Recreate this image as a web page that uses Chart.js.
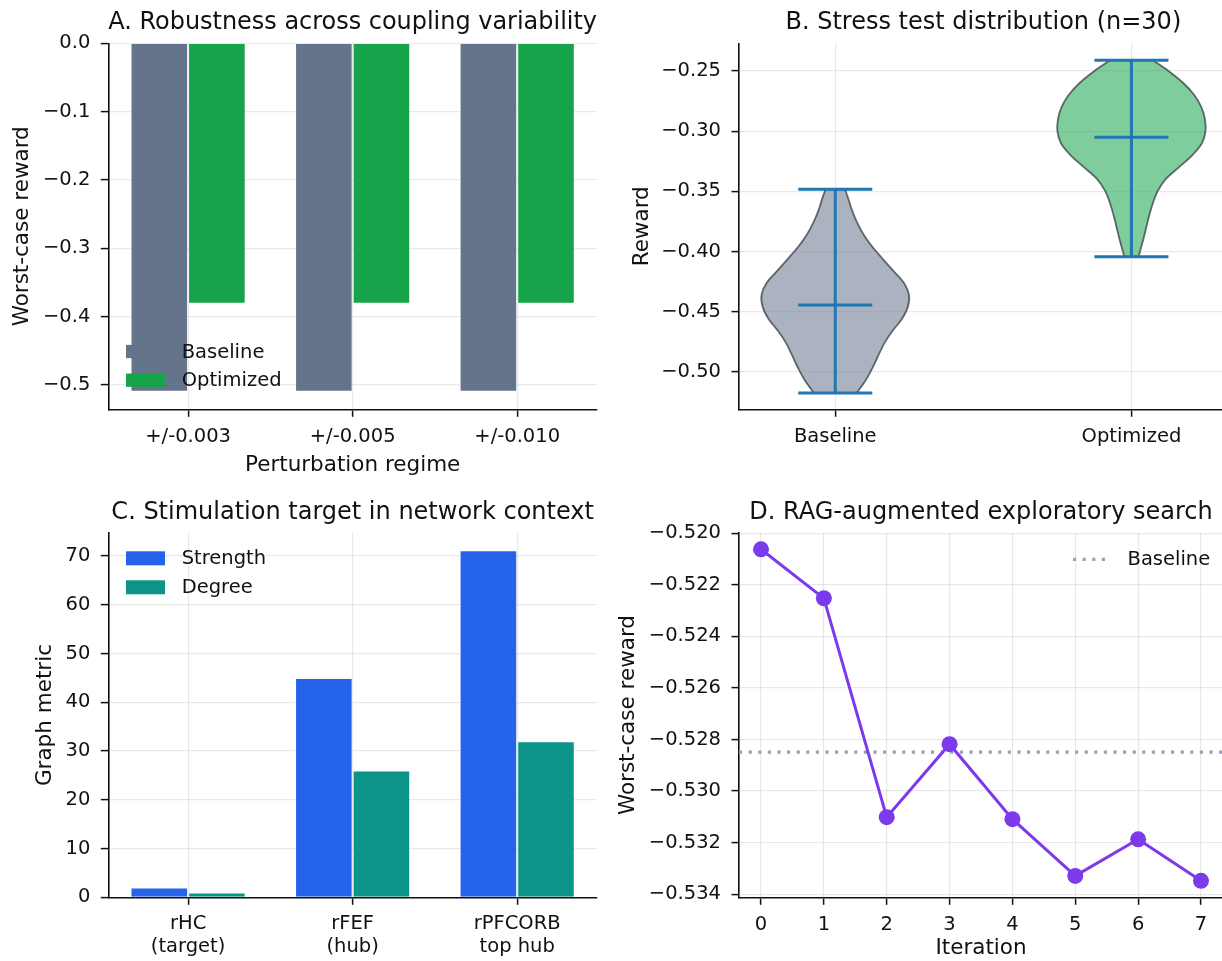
<!DOCTYPE html>
<html>
<head>
<meta charset="utf-8">
<title>Robustness and search summary</title>
<script src="https://cdn.jsdelivr.net/npm/chart.js@4.4.1/dist/chart.umd.min.js"></script>
<style>
  html, body { margin: 0; padding: 0; background: #ffffff; overflow: hidden; width: 1222px; height: 961px; }
  canvas { position: absolute; }
</style>
</head>
<body>
<canvas id="chartA" width="611" height="480" style="left:0;top:0"></canvas>
<canvas id="chartB" width="620" height="480" style="left:611px;top:0"></canvas>
<canvas id="chartC" width="611" height="490" style="left:0;top:480px"></canvas>
<canvas id="chartD" width="620" height="490" style="left:611px;top:480px"></canvas>
<script>
// --- A: worst-case reward per perturbation regime
const regimes = ['+/-0.003', '+/-0.005', '+/-0.010'];
const robustBaseline = [-0.510, -0.510, -0.510];
const robustOptimized = [-0.381, -0.381, -0.381];
const robustTicks = [-0.5, -0.4, -0.3, -0.2, -0.1, 0.0];

// --- B: stress test violins (outline: level -> half width)
const stressGroups = ['Baseline', 'Optimized'];
const stressMin = [-0.5175, -0.4042];
const stressMax = [-0.3483, -0.2411];
const stressMean = [-0.4444, -0.3050];
const baseLevels = [-0.3483, -0.356, -0.366, -0.376, -0.386, -0.396, -0.406, -0.416, -0.426, -0.436, -0.446, -0.456, -0.466, -0.476, -0.486, -0.496, -0.506, -0.5175];
const baseHalfWidth = [0.033, 0.044, 0.057, 0.074, 0.096, 0.125, 0.160, 0.196, 0.232, 0.249, 0.245, 0.225, 0.193, 0.166, 0.146, 0.127, 0.105, 0.072];
const optLevels = [-0.2411, -0.250, -0.260, -0.270, -0.280, -0.290, -0.300, -0.310, -0.320, -0.330, -0.340, -0.350, -0.360, -0.370, -0.380, -0.390, -0.398, -0.4042];
const optHalfWidth = [0.072, 0.125, 0.175, 0.212, 0.236, 0.248, 0.250, 0.238, 0.205, 0.160, 0.115, 0.088, 0.072, 0.060, 0.050, 0.040, 0.031, 0.024];
const stressTicks = [-0.50, -0.45, -0.40, -0.35, -0.30, -0.25];

// --- C: graph metrics of the stimulation target
const nodes = [['rHC', '(target)'], ['rFEF', '(hub)'], ['rPFCORB', 'top hub']];
const strength = [2.0, 45.0, 71.2];
const degree = [1.0, 26.0, 32.0];
const metricTicks = [0, 10, 20, 30, 40, 50, 60, 70];

// --- D: exploratory search trace
const iterations = [0, 1, 2, 3, 4, 5, 6, 7];
const searchReward = [-0.52062, -0.52252, -0.53101, -0.52818, -0.53109, -0.53329, -0.53187, -0.53348];
const searchBaseline = -0.52849;
const searchTicks = [-0.534, -0.532, -0.530, -0.528, -0.526, -0.524, -0.522, -0.520];

Chart.defaults.font.family = "'DejaVu Sans', sans-serif";
Chart.defaults.color = '#111111';

const INK = '#111111';
const GRID = 'rgba(0, 0, 0, 0.085)';
const BAR_EDGE = 'rgba(255,255,255,0.25)';
const CAP = 0.125;

function fmt(v, d) {
    const s = Math.abs(v).toFixed(d);
    return (v < -1e-9 ? '\u2212' : '') + s;
}

// legend drawn inside the plot area, matplotlib style (no frame)
const insetLegend = {
    id: 'insetLegend',
    afterDraw(chart, args, opts) {
        if (!opts.datasets) return;
        const { ctx, chartArea } = chart;
        ctx.save();
        ctx.font = '19.5px "DejaVu Sans"';
        ctx.textBaseline = 'middle';
        ctx.textAlign = 'left';
        opts.datasets.forEach((idx, i) => {
            const ds = chart.data.datasets[idx];
            const cy = chartArea.top + opts.top + i * opts.spacing;
            const x0 = chartArea.left + opts.left;
            if (ds.borderDash) {
                ctx.strokeStyle = ds.borderColor;
                ctx.lineWidth = ds.borderWidth;
                ctx.setLineDash(ds.borderDash);
                ctx.beginPath();
                ctx.moveTo(x0, cy);
                ctx.lineTo(x0 + opts.handle, cy);
                ctx.stroke();
                ctx.setLineDash([]);
            } else {
                ctx.fillStyle = ds.backgroundColor;
                ctx.fillRect(x0, cy - opts.patchH / 2, opts.handle, opts.patchH);
            }
            ctx.fillStyle = INK;
            ctx.fillText(ds.label, chartArea.left + opts.textLeft, cy + 1);
        });
        ctx.restore();
    }
};

function axis(o) {
    return {
        type: 'linear',
        min: o.min,
        max: o.max,
        offset: false,
        grid: { color: GRID, lineWidth: 1.2, offset: false, drawTicks: true, tickLength: 7.5, tickColor: INK, tickWidth: 1.5 },
        border: { display: true, color: INK, width: 1.6 },
        ticks: {
            color: INK,
            font: { size: 19.5, lineHeight: o.lineHeight || 1.2 },
            padding: o.pad,
            autoSkip: false,
            maxRotation: 0,
            minRotation: 0,
            callback: o.format
        },
        title: o.title
            ? { display: true, text: o.title, color: INK, font: { size: 21.5, lineHeight: 1.2 }, padding: o.titlePad }
            : { display: false },
        afterBuildTicks: s => { s.ticks = o.ticks.map(v => ({ value: v })); },
        afterFit: s => {
            if (o.width) s.width = o.width;
            if (o.height) s.height = o.height;
        }
    };
}

function panelTitle(text, top, bottom) {
    return {
        display: true, text, fullSize: false, color: INK,
        font: { size: 24, weight: 'normal', lineHeight: 1.2 },
        padding: { top, bottom }
    };
}

function baseOptions(padRight, title) {
    return {
        responsive: false,
        animation: false,
        events: [],
        layout: { padding: { left: 0, top: 0, right: padRight, bottom: 0 } },
        plugins: {
            legend: { display: false },
            tooltip: { enabled: false },
            title
        }
    };
}

function barSet(label, values, color) {
    return {
        label, data: values.map((v, i) => ({ x: i, y: v })), backgroundColor: color,
        borderColor: BAR_EDGE, borderWidth: 1, categoryPercentage: 0.7, barPercentage: 1.0
    };
}

// ---------- A
const optsA = baseOptions(14, panelTitle('A. Robustness across coupling variability', 8.5, 6));
optsA.plugins.insetLegend = { datasets: [0, 1], left: 17.7, top: 308.2, spacing: 28.7, handle: 39, patchH: 13.3, textLeft: 73.4 };
optsA.scales = {
    x: axis({ min: -0.485, max: 2.485, ticks: [0, 1, 2], format: v => regimes[v], pad: 8, height: 70.7,
              title: 'Perturbation regime', titlePad: { top: 0, bottom: 2.1 } }),
    y: axis({ min: -0.5355, max: 0, ticks: robustTicks, format: v => fmt(v, 1), pad: 10.5, width: 108.3,
              title: 'Worst-case reward', titlePad: { top: 9.6, bottom: 0 } })
};
new Chart(document.getElementById('chartA'), {
    type: 'bar',
    data: {
        datasets: [
            barSet('Baseline', robustBaseline, '#64748b'),
            barSet('Optimized', robustOptimized, '#16a34a')
        ]
    },
    options: optsA,
    plugins: [insetLegend]
});

// ---------- B
// corners are doubled so the smoothed outline keeps flat ends at min / max
function violinOutline(pos, levels, halfs) {
    const right = levels.map((y, i) => ({ x: pos + halfs[i], y }));
    const left = levels.map((y, i) => ({ x: pos - halfs[i], y })).reverse();
    const dup = pts => [pts[0]].concat(pts, [pts[pts.length - 1]]);
    return dup(right).concat(dup(left), [right[0]]);
}

function statLine(points) {
    return { data: points, borderColor: '#1f77b4', borderWidth: 3, borderCapStyle: 'butt', pointRadius: 0, fill: false, tension: 0 };
}

const stressDatasets = [];
stressGroups.forEach((g, i) => {
    const pos = i + 1;
    stressDatasets.push(statLine([{ x: pos, y: stressMin[i] }, { x: pos, y: stressMax[i] }]));
    stressDatasets.push(statLine([{ x: pos - CAP, y: stressMax[i] }, { x: pos + CAP, y: stressMax[i] }]));
    stressDatasets.push(statLine([{ x: pos - CAP, y: stressMin[i] }, { x: pos + CAP, y: stressMin[i] }]));
    stressDatasets.push(statLine([{ x: pos - CAP, y: stressMean[i] }, { x: pos + CAP, y: stressMean[i] }]));
});
stressDatasets.push({
    label: 'Baseline', data: violinOutline(1, baseLevels, baseHalfWidth), fill: 'shape',
    backgroundColor: 'rgba(100,116,139,0.55)', borderColor: 'rgba(50,55,65,0.72)', borderWidth: 1.8, tension: 0.3, pointRadius: 0
});
stressDatasets.push({
    label: 'Optimized', data: violinOutline(2, optLevels, optHalfWidth), fill: 'shape',
    backgroundColor: 'rgba(22,163,74,0.55)', borderColor: 'rgba(50,55,65,0.72)', borderWidth: 1.8, tension: 0.3, pointRadius: 0
});

const optsB = baseOptions(3.3, panelTitle('B. Stress test distribution (n=30)', 8.5, 6));
optsB.scales = {
    x: axis({ min: 0.675, max: 2.325, ticks: [1, 2], format: v => stressGroups[v - 1], pad: 8, height: 70.7 }),
    y: axis({ min: -0.531, max: -0.227, ticks: stressTicks, format: v => fmt(v, 2), pad: 10.5, width: 128,
              title: 'Reward', titlePad: { top: 18.1, bottom: 0 } })
};
new Chart(document.getElementById('chartB'), {
    type: 'line',
    data: { datasets: stressDatasets },
    options: optsB
});

// ---------- C
const optsC = baseOptions(14, panelTitle('C. Stimulation target in network context', 18.4, 5.6));
optsC.plugins.insetLegend = { datasets: [0, 1], left: 17.7, top: 25.5, spacing: 29, handle: 39, patchH: 14, textLeft: 73.4 };
optsC.scales = {
    x: axis({ min: -0.485, max: 2.485, ticks: [0, 1, 2], format: v => nodes[v], pad: 8, height: 72.7, lineHeight: 1.18 }),
    y: axis({ min: 0, max: 74.76, ticks: metricTicks, format: v => String(v), pad: 10.5, width: 108.3,
              title: 'Graph metric', titlePad: { top: 32.1, bottom: 0 } })
};
new Chart(document.getElementById('chartC'), {
    type: 'bar',
    data: {
        datasets: [
            barSet('Strength', strength, '#2563eb'),
            barSet('Degree', degree, '#0d9488')
        ]
    },
    options: optsC,
    plugins: [insetLegend]
});

// ---------- D
const D_XMIN = -0.35, D_XMAX = 7.35;
const optsD = baseOptions(3.3, panelTitle('D. RAG-augmented exploratory search', 18.4, 5.6));
optsD.plugins.insetLegend = { datasets: [1], left: 334, top: 26.5, spacing: 0, handle: 33, textLeft: 388.5 };
optsD.scales = {
    x: axis({ min: D_XMIN, max: D_XMAX, ticks: iterations, format: v => String(v), pad: 8, height: 72.7,
              title: 'Iteration', titlePad: { top: 0, bottom: 8.6 } }),
    y: axis({ min: -0.53412, max: -0.51998, ticks: searchTicks, format: v => fmt(v, 3), pad: 10.5, width: 128,
              title: 'Worst-case reward', titlePad: { top: 4.1, bottom: 0 } })
};
new Chart(document.getElementById('chartD'), {
    type: 'line',
    data: {
        datasets: [
            { label: 'Search', data: iterations.map((it, i) => ({ x: it, y: searchReward[i] })),
              borderColor: '#7c3aed', backgroundColor: '#7c3aed', borderWidth: 3, tension: 0,
              pointRadius: 8, pointBorderWidth: 0, pointBackgroundColor: '#7c3aed', fill: false },
            { label: 'Baseline', data: [{ x: D_XMIN, y: searchBaseline }, { x: D_XMAX, y: searchBaseline }],
              borderColor: '#94a3b8', borderWidth: 3.2, borderDash: [3.2, 6.4], pointRadius: 0, fill: false, tension: 0 }
        ]
    },
    options: optsD,
    plugins: [insetLegend]
});
</script>
</body>
</html>
